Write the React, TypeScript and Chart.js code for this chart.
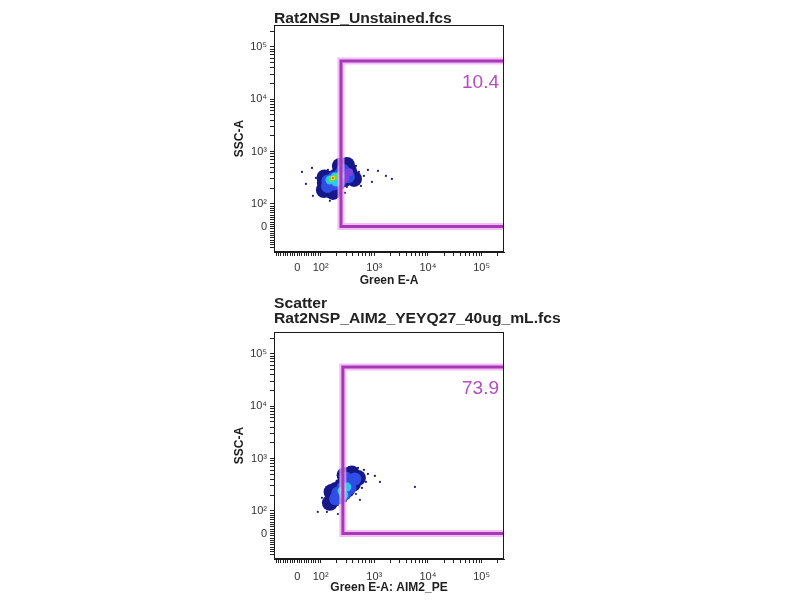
import { useEffect, useRef } from "react";
import { Chart, registerables } from "chart.js";

Chart.register(...registerables);

// ---------- axis definition (biexponential-like display) ----------
const X_MIN = -100;
const Y_MIN = -112;
const AXIS_MAX = 262144;
const TICK_VALUES = [
  -90, -80, -70, -60, -50, -40, -30, -20, -10, 0, 10, 20, 30, 40, 50, 60, 70, 80, 90,
  100, 200, 300, 400, 500, 600, 700, 800, 900,
  1000, 2000, 3000, 4000, 5000, 6000, 7000, 8000, 9000,
  10000, 20000, 30000, 40000, 50000, 60000, 70000, 80000, 90000,
  100000, 200000,
];
const MAJOR_LABELS: Record<number, string> = { 0: "0", 100: "10²", 1000: "10³", 10000: "10⁴", 100000: "10⁵" };
const TICK_LABELS = TICK_VALUES.map((v) => MAJOR_LABELS[v] ?? "");

// ---------- panel 1 : Rat2NSP_Unstained.fcs  [Green E-A, SSC-A] ----------
const P1_TITLE = ["Rat2NSP_Unstained.fcs"];
const P1_XTITLE = "Green E-A";
const P1_GATE = { left: 240, bottom: 0, top: 54000, freq: "10.4" };
const P1_NAVY = [
  [120, 251], [156, 299], [201, 341], [261, 390], [337, 426], [149, 201], [210, 251], [284, 299], [367, 341],
  [115, 184], [170, 169], [229, 530], [309, 554], [118, 320], [420, 300],
];
const P1_BLUE = [[137, 274], [177, 313], [229, 357], [296, 373], [177, 240], [239, 286], [135, 215], [260, 440], [330, 330]];
const P1_VIOLET = [[296, 357], [284, 299], [340, 400]];
const P1_CYAN = [[149, 286], [185, 327], [229, 341], [193, 262]];
const P1_GREEN = [[162, 299], [193, 327]];
const P1_YELLOW = [[170, 313]];
const P1_ORANGE = [[170, 313]];
const P1_SPECKLE = [
  [80, 313], [88, 184], [97, 357], [106, 162], [131, 142], [170, 136], [229, 169], [309, 210], [400, 251],
  [475, 313], [518, 407], [455, 530], [352, 605], [261, 579], [193, 508], [137, 445], [115, 390],
  [20, 407], [37, 240], [63, 486], [67, 142], [642, 341], [762, 445], [905, 262], [1171, 426],
  [1651, 341], [2136, 299], [149, 114], [284, 162], [565, 220],
];

// ---------- panel 2 : Rat2NSP_AIM2_YEYQ27_40ug_mL.fcs ----------
const P2_TITLE = ["Scatter", "Rat2NSP_AIM2_YEYQ27_40ug_mL.fcs"];
const P2_XTITLE = "Green E-A: AIM2_PE";
const P2_GATE = { left: 260, bottom: 0, top: 56000, freq: "73.9" };
const P2_NAVY = [
  [170, 184], [193, 251], [250, 299], [323, 373], [418, 445], [229, 193], [309, 251], [400, 327], [496, 426],
  [149, 142], [160, 230], [280, 480], [380, 520],
];
const P2_BLUE = [[210, 220], [261, 274], [337, 327], [436, 407], [284, 210], [352, 274], [300, 420], [190, 170]];
const P2_CYAN = [[250, 240], [309, 286], [272, 201]];
const P2_GREEN = [[261, 251]];
const P2_SPECKLE = [
  [106, 177], [120, 124], [131, 95], [156, 114], [210, 130], [296, 155], [455, 210], [589, 274],
  [700, 357], [762, 508], [642, 605], [496, 660], [352, 579], [261, 465], [201, 373], [156, 286],
  [131, 230], [88, 95], [1029, 465], [1276, 357], [5732, 286], [210, 86], [541, 162],
];

// ---------- transform ----------
const LIN = 1 / (100 * Math.LN10);
function T(v: number) {
  return v >= 100 ? Math.log10(v) : 2 + (v - 100) * LIN;
}

const FONT = '"Liberation Sans", Arial, sans-serif';

type Layer = { pts: number[][]; color: string; r: number };

function gatePath(g: { left: number; bottom: number; top: number }) {
  return [
    { x: T(AXIS_MAX), y: T(g.top) },
    { x: T(g.left), y: T(g.top) },
    { x: T(g.left), y: T(g.bottom) },
    { x: T(AXIS_MAX), y: T(g.bottom) },
  ];
}

const decorPlugin = {
  id: "decor",
  afterDatasetsDraw(chart: any, _args: any, opts: any) {
    const { ctx, chartArea: a, scales } = chart;
    ctx.save();
    ctx.strokeStyle = "#1a1a1a";
    ctx.lineWidth = 1;
    ctx.strokeRect(a.left + 0.5, a.top + 0.5, a.right - a.left - 1, a.bottom - a.top - 1);
    const yTop = scales.y.getPixelForValue(T(opts.gateTop));
    ctx.fillStyle = "#b44cc0";
    ctx.font = `19px ${FONT}`;
    ctx.textAlign = "right";
    ctx.textBaseline = "middle";
    ctx.fillText(opts.freq, a.right - 5, yTop + 22);
    ctx.fillStyle = "#222";
    ctx.font = `bold 14px ${FONT}`;
    ctx.textAlign = "left";
    ctx.textBaseline = "alphabetic";
    (opts.title as string[]).forEach((line: string, i: number) => {
      ctx.save();
      ctx.translate(a.left, a.top + opts.titleOffsets[i]);
      ctx.scale(1.12, 1);
      ctx.fillText(line, 0, 0);
      ctx.restore();
    });
    ctx.restore();
  },
};

function makeAxis(axis: "x" | "y", title: string, min: number, pad: number) {
  return {
    type: "linear" as const,
    min: T(min),
    max: T(AXIS_MAX),
    afterBuildTicks: (s: any) => {
      s.ticks = TICK_VALUES.map((v) => ({ value: T(v) }));
    },
    afterFit: (s: any) => {
      if (axis === "x") s.height = 38;
      else s.width = 42;
    },
    ticks: {
      autoSkip: false,
      maxRotation: 0,
      minRotation: 0,
      padding: pad,
      color: "#333",
      font: { size: 11, family: FONT },
      callback: (_v: any, i: number) => TICK_LABELS[i],
    },
    grid: { display: true, drawOnChartArea: false, drawTicks: true, tickLength: 4, tickColor: "#222", tickWidth: 1 },
    border: { display: true, color: "#1a1a1a", width: 1 },
    title: {
      display: true,
      text: title,
      color: "#1e1e1e",
      font: { size: 12, weight: "bold" as const, family: FONT },
      padding: axis === "x" ? { top: 0, bottom: 2 } : { top: 0, bottom: 0 },
    },
  };
}

type PanelCfg = {
  title: string[];
  titleOffsets: number[];
  xTitle: string;
  gate: { left: number; bottom: number; top: number; freq: string };
  layers: Layer[];
  padding: { left: number; right: number; top: number; bottom: number };
  xTickPad: number;
};

function Panel({ cfg }: { cfg: PanelCfg }) {
  const ref = useRef<HTMLCanvasElement>(null);
  useEffect(() => {
    const layerSets = cfg.layers.map((l, i) => ({
      data: l.pts.map(([x, y]) => ({ x: T(x), y: T(y) })),
      pointRadius: l.r,
      pointBackgroundColor: l.color,
      pointBorderWidth: 0,
      showLine: false,
      order: 2 + (cfg.layers.length - i),
    }));
    const path = gatePath(cfg.gate);
    const chart = new Chart(ref.current!, {
      type: "scatter",
      data: {
        datasets: [
          {
            data: path,
            showLine: true,
            borderColor: "#a53ab6",
            borderWidth: 3,
            borderCapStyle: "round",
            borderJoinStyle: "miter",
            pointRadius: 0,
            order: 0,
          } as any,
          {
            data: path,
            showLine: true,
            borderColor: "rgba(240,165,242,0.75)",
            borderWidth: 7,
            borderCapStyle: "round",
            pointRadius: 0,
            order: 1,
          } as any,
          ...layerSets,
        ],
      },
      options: {
        responsive: false,
        animation: false,
        devicePixelRatio: 1,
        events: [],
        layout: { padding: cfg.padding },
        plugins: {
          legend: { display: false },
          tooltip: { enabled: false },
          decor: { title: cfg.title, titleOffsets: cfg.titleOffsets, freq: cfg.gate.freq, gateTop: cfg.gate.top },
        } as any,
        scales: {
          x: makeAxis("x", cfg.xTitle, X_MIN, cfg.xTickPad),
          y: makeAxis("y", "SSC-A", Y_MIN, 3),
        } as any,
      },
      plugins: [decorPlugin],
    });
    return () => chart.destroy();
  }, []);
  return (
    <canvas
      ref={ref}
      width={800}
      height={600}
      style={{ position: "absolute", left: 0, top: 0, width: 800, height: 600 }}
    />
  );
}

const NAVY = "#16188a";
const BLUE = "#2e4ee6";
const CYAN = "#2cc6ee";
const SPECK = "#1a1a80";

const PANEL1: PanelCfg = {
  title: P1_TITLE,
  titleOffsets: [-2],
  xTitle: P1_XTITLE,
  gate: P1_GATE,
  layers: [
    { pts: P1_SPECKLE, color: SPECK, r: 1.1 },
    { pts: P1_NAVY, color: NAVY, r: 8 },
    { pts: P1_BLUE, color: BLUE, r: 6.5 },
    { pts: P1_VIOLET, color: "#7b42e0", r: 4 },
    { pts: P1_CYAN, color: CYAN, r: 4.5 },
    { pts: P1_GREEN, color: "#58dc70", r: 3.2 },
    { pts: P1_YELLOW, color: "#f0e040", r: 2.2 },
    { pts: P1_ORANGE, color: "#ef6a24", r: 1.2 },
  ],
  padding: { left: 232, right: 296, top: 25, bottom: 310 },
  xTickPad: 5,
};

const PANEL2: PanelCfg = {
  title: P2_TITLE,
  titleOffsets: [-24, -9],
  xTitle: P2_XTITLE,
  gate: P2_GATE,
  layers: [
    { pts: P2_SPECKLE, color: SPECK, r: 1.1 },
    { pts: P2_NAVY, color: NAVY, r: 8 },
    { pts: P2_BLUE, color: BLUE, r: 6.5 },
    { pts: P2_CYAN, color: CYAN, r: 4.5 },
    { pts: P2_GREEN, color: "#8ee0a8", r: 3 },
  ],
  padding: { left: 232, right: 296, top: 332, bottom: 3 },
  xTickPad: 7,
};

export default function App() {
  return (
    <div style={{ position: "fixed", left: 0, top: 0, width: 800, height: 600, background: "#fff" }}>
      <Panel cfg={PANEL1} />
      <Panel cfg={PANEL2} />
    </div>
  );
}
